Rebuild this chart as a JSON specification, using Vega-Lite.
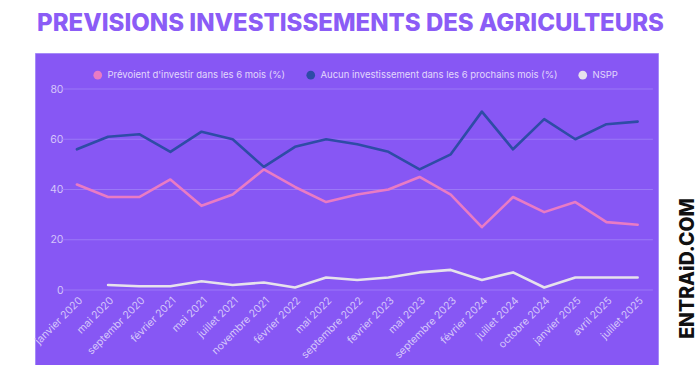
{
  "$schema": "https://vega.github.io/schema/vega-lite/v6.json",
  "background": "white",
  "padding": {"left": 33, "top": 12, "right": 0, "bottom": 0},
  "width": 623,
  "height": 312,
  "title": {
    "text": "PREVISIONS INVESTISSEMENTS DES AGRICULTEURS",
    "font": "Inter",
    "fontSize": 24,
    "fontWeight": 800,
    "color": "#8B5CF6",
    "anchor": "middle",
    "offset": 17,
    "dx": 4
  },
  "datasets": {
    "series": [
      {"d": "janvier 2020", "s": "Prévoient d'investir dans les 6 mois (%)", "v": 42},
      {"d": "mai 2020", "s": "Prévoient d'investir dans les 6 mois (%)", "v": 37},
      {"d": "septembr 2020", "s": "Prévoient d'investir dans les 6 mois (%)", "v": 37},
      {"d": "février 2021", "s": "Prévoient d'investir dans les 6 mois (%)", "v": 44},
      {"d": "mai 2021", "s": "Prévoient d'investir dans les 6 mois (%)", "v": 33.5},
      {"d": "juillet 2021", "s": "Prévoient d'investir dans les 6 mois (%)", "v": 38},
      {"d": "novembre 2021", "s": "Prévoient d'investir dans les 6 mois (%)", "v": 48},
      {"d": "février 2022", "s": "Prévoient d'investir dans les 6 mois (%)", "v": 41},
      {"d": "mai 2022", "s": "Prévoient d'investir dans les 6 mois (%)", "v": 35},
      {"d": "septembre 2022", "s": "Prévoient d'investir dans les 6 mois (%)", "v": 38},
      {"d": "fevrier 2023", "s": "Prévoient d'investir dans les 6 mois (%)", "v": 40},
      {"d": "mai 2023", "s": "Prévoient d'investir dans les 6 mois (%)", "v": 45},
      {"d": "septembre 2023", "s": "Prévoient d'investir dans les 6 mois (%)", "v": 38},
      {"d": "février 2024", "s": "Prévoient d'investir dans les 6 mois (%)", "v": 25},
      {"d": "juillet 2024", "s": "Prévoient d'investir dans les 6 mois (%)", "v": 37},
      {"d": "octobre 2024", "s": "Prévoient d'investir dans les 6 mois (%)", "v": 31},
      {"d": "janvier 2025", "s": "Prévoient d'investir dans les 6 mois (%)", "v": 35},
      {"d": "avril 2025", "s": "Prévoient d'investir dans les 6 mois (%)", "v": 27},
      {"d": "juillet 2025", "s": "Prévoient d'investir dans les 6 mois (%)", "v": 26},
      {"d": "janvier 2020", "s": "Aucun investissement dans les 6 prochains mois (%)", "v": 56},
      {"d": "mai 2020", "s": "Aucun investissement dans les 6 prochains mois (%)", "v": 61},
      {"d": "septembr 2020", "s": "Aucun investissement dans les 6 prochains mois (%)", "v": 62},
      {"d": "février 2021", "s": "Aucun investissement dans les 6 prochains mois (%)", "v": 55},
      {"d": "mai 2021", "s": "Aucun investissement dans les 6 prochains mois (%)", "v": 63},
      {"d": "juillet 2021", "s": "Aucun investissement dans les 6 prochains mois (%)", "v": 60},
      {"d": "novembre 2021", "s": "Aucun investissement dans les 6 prochains mois (%)", "v": 49},
      {"d": "février 2022", "s": "Aucun investissement dans les 6 prochains mois (%)", "v": 57},
      {"d": "mai 2022", "s": "Aucun investissement dans les 6 prochains mois (%)", "v": 60},
      {"d": "septembre 2022", "s": "Aucun investissement dans les 6 prochains mois (%)", "v": 58},
      {"d": "fevrier 2023", "s": "Aucun investissement dans les 6 prochains mois (%)", "v": 55},
      {"d": "mai 2023", "s": "Aucun investissement dans les 6 prochains mois (%)", "v": 48},
      {"d": "septembre 2023", "s": "Aucun investissement dans les 6 prochains mois (%)", "v": 54},
      {"d": "février 2024", "s": "Aucun investissement dans les 6 prochains mois (%)", "v": 71},
      {"d": "juillet 2024", "s": "Aucun investissement dans les 6 prochains mois (%)", "v": 56},
      {"d": "octobre 2024", "s": "Aucun investissement dans les 6 prochains mois (%)", "v": 68},
      {"d": "janvier 2025", "s": "Aucun investissement dans les 6 prochains mois (%)", "v": 60},
      {"d": "avril 2025", "s": "Aucun investissement dans les 6 prochains mois (%)", "v": 66},
      {"d": "juillet 2025", "s": "Aucun investissement dans les 6 prochains mois (%)", "v": 67},
      {"d": "mai 2020", "s": "NSPP", "v": 2},
      {"d": "septembr 2020", "s": "NSPP", "v": 1.5},
      {"d": "février 2021", "s": "NSPP", "v": 1.5},
      {"d": "mai 2021", "s": "NSPP", "v": 3.5},
      {"d": "juillet 2021", "s": "NSPP", "v": 2},
      {"d": "novembre 2021", "s": "NSPP", "v": 3},
      {"d": "février 2022", "s": "NSPP", "v": 1},
      {"d": "mai 2022", "s": "NSPP", "v": 5},
      {"d": "septembre 2022", "s": "NSPP", "v": 4},
      {"d": "fevrier 2023", "s": "NSPP", "v": 5},
      {"d": "mai 2023", "s": "NSPP", "v": 7},
      {"d": "septembre 2023", "s": "NSPP", "v": 8},
      {"d": "février 2024", "s": "NSPP", "v": 4},
      {"d": "juillet 2024", "s": "NSPP", "v": 7},
      {"d": "octobre 2024", "s": "NSPP", "v": 1},
      {"d": "janvier 2025", "s": "NSPP", "v": 5},
      {"d": "avril 2025", "s": "NSPP", "v": 5},
      {"d": "juillet 2025", "s": "NSPP", "v": 5}
    ],
    "ticks": [{"t": 0}, {"t": 20}, {"t": 40}, {"t": 60}, {"t": 80}]
  },
  "encoding": {
    "x": {
      "field": "d",
      "type": "ordinal",
      "scale": {
        "type": "point",
        "domain": ["janvier 2020", "mai 2020", "septembr 2020", "février 2021", "mai 2021", "juillet 2021", "novembre 2021", "février 2022", "mai 2022", "septembre 2022", "fevrier 2023", "mai 2023", "septembre 2023", "février 2024", "juillet 2024", "octobre 2024", "janvier 2025", "avril 2025", "juillet 2025"],
        "padding": 1.2,
        "align": 0.673
      },
      "axis": {
        "orient": "bottom",
        "offset": -75,
        "title": null,
        "domain": false,
        "ticks": false,
        "grid": false,
        "labelAngle": -45,
        "labelPadding": 5,
        "labelFont": "Inter",
        "labelFontSize": 10.5,
        "labelColor": "#D5C6FB"
      }
    }
  },
  "layer": [
    {
      "data": {"name": "ticks"},
      "mark": {"type": "rule", "color": "#9B78F7", "strokeWidth": 1, "xOffset": -15.3, "x2Offset": 15.3},
      "encoding": {
        "x": {"datum": "janvier 2020", "type": "ordinal"},
        "x2": {"datum": "juillet 2025"},
        "y": {
          "field": "t",
          "type": "quantitative",
          "scale": {"domain": [-29.85, 94.33], "nice": false, "zero": false},
          "axis": {
            "orient": "right",
            "title": "ENTRAiD.COM",
            "titleFont": "Inter",
            "titleFontSize": 19.5,
            "titleFontWeight": 800,
            "titleColor": "#111111",
            "titleAngle": 270,
            "titleAlign": "center",
            "titleBaseline": "middle",
            "titleX": 29,
            "titleY": 215,
            "labels": false,
            "ticks": false,
            "domain": false,
            "grid": false
          }
        }
      }
    },
    {
      "data": {"name": "series"},
      "mark": {"type": "line", "strokeWidth": 2.6, "strokeCap": "round", "strokeJoin": "round"},
      "encoding": {
        "y": {
          "field": "v",
          "type": "quantitative",
          "scale": {"domain": [-29.85, 94.33], "nice": false, "zero": false},
          "axis": {
            "orient": "left",
            "offset": -34,
            "values": [0, 20, 40, 60, 80],
            "title": null,
            "domain": false,
            "ticks": false,
            "grid": false,
            "labelPadding": 6,
            "labelFont": "Inter",
            "labelFontSize": 10.5,
            "labelColor": "#D5C6FB"
          }
        },
        "color": {
          "field": "s",
          "type": "nominal",
          "scale": {
            "domain": ["Prévoient d'investir dans les 6 mois (%)", "Aucun investissement dans les 6 prochains mois (%)", "NSPP"],
            "range": ["#E97BC4", "#2E4CA6", "#E6E2EC"]
          },
          "legend": {
            "orient": "none",
            "legendX": 58,
            "legendY": 17,
            "direction": "horizontal",
            "title": null,
            "symbolType": "circle",
            "symbolSize": 75,
            "symbolStrokeWidth": 0,
            "symbolOpacity": 1,
            "labelFont": "Inter",
            "labelFontSize": 9.5,
            "labelLimit": 0,
            "labelColor": "#E2D8FC",
            "columnPadding": 20,
            "labelOffset": 5,
            "encode": {
              "symbols": {
                "update": {
                  "fill": {"scale": "color", "field": "value"},
                  "stroke": {"value": "transparent"}
                }
              }
            }
          }
        }
      }
    }
  ],
  "resolve": {"scale": {"y": "independent"}},
  "config": {
    "view": {"fill": "#8757F4", "stroke": "#A58BF8", "strokeWidth": 1}
  }
}
